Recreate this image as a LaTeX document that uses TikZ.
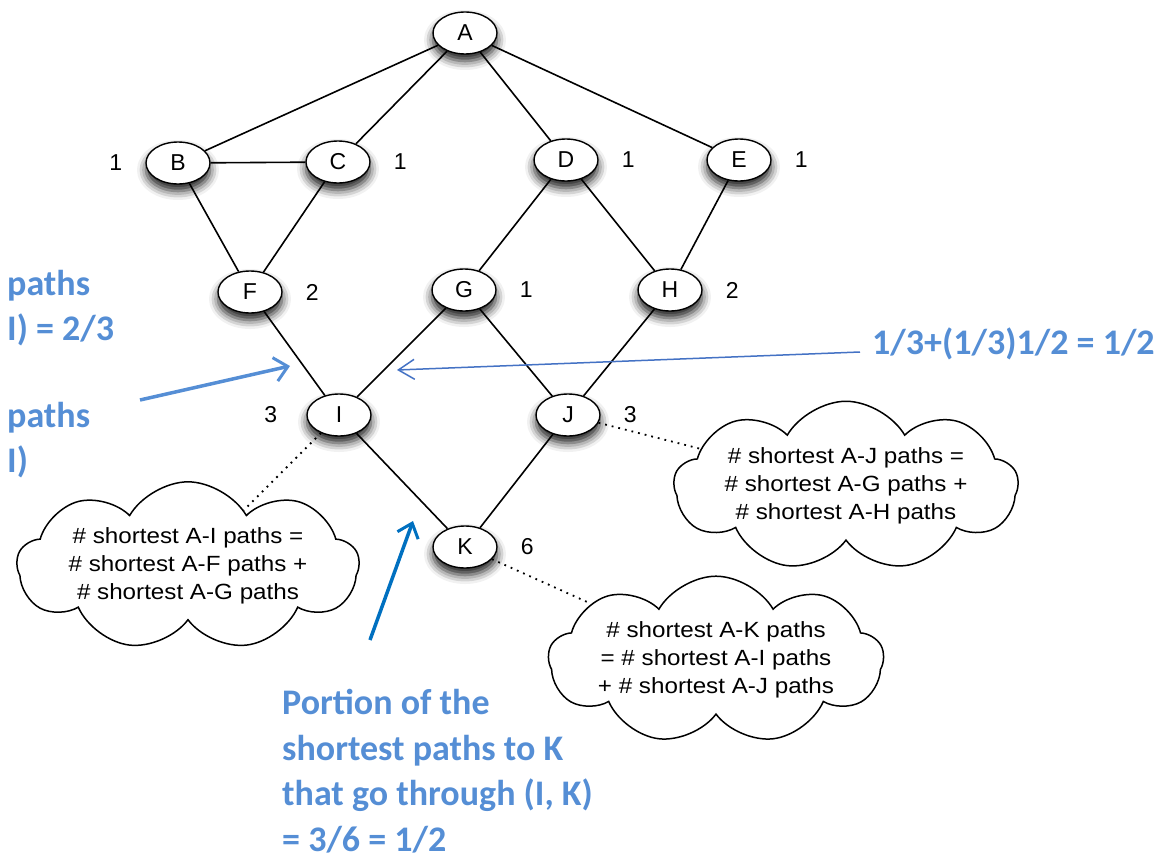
\documentclass[tikz,border=0pt]{standalone}
\usepackage{fontspec}
\setmainfont{Liberation Sans}
\newfontfamily\bubblefont[FakeStretch=1.1]{Liberation Sans}
\newfontfamily\remarkfont{Carlito}
\usetikzlibrary{arrows.meta,positioning,shapes.geometric,shapes.symbols,shadows.blur}
\definecolor{remarkblue}{RGB}{85,142,213}
\definecolor{thinblue}{RGB}{68,114,196}
\definecolor{deepblue}{RGB}{0,112,192}

\begin{document}
\begin{tikzpicture}[x=1pt,y=-1pt,node distance=23pt,
    vertex/.style={draw,ellipse,line width=1.4pt,fill=white,inner sep=0pt,
      minimum width=64pt,minimum height=42pt,font=\fontsize{23}{26}\selectfont,
      blur shadow={shadow xshift=0pt,shadow yshift=-7pt,shadow blur radius=9pt,shadow opacity=90}},
    count/.style={inner sep=0pt,font=\fontsize{23}{26}\selectfont},
    edge/.style={line width=1.6pt},
    bubble/.style={draw,cloud,cloud puffs=9,cloud puff arc=120,cloud ignores aspect,
      inner sep=0pt,line width=1.5pt,align=center,font=\bubblefont\fontsize{22}{28}\selectfont},
    pointer/.style={line width=1.8pt,dash pattern=on 1.8pt off 5pt},
    remark/.style={inner sep=0pt,text=remarkblue,align=left,
      font=\remarkfont\bfseries\fontsize{36}{45.5}\selectfont}]
  \useasboundingbox (0,0) rectangle (1171,859);
  % the graph
  \node[vertex] (A) at (465,33)  {A};
  \node[vertex] (B) at (178,163) {B};
  \node[vertex] (C) at (338,162) {C};
  \node[vertex] (D) at (566,160) {D};
  \node[vertex] (E) at (739,160) {E};
  \node[vertex] (F) at (250,292) {F};
  \node[vertex] (G) at (464,290) {G};
  \node[vertex] (H) at (670,290) {H};
  \node[vertex] (I) at (339,415) {I};
  \node[vertex] (J) at (568,415) {J};
  \node[vertex] (K) at (465,547) {K};
  \foreach \u/\v in {A/B,A/C,A/D,A/E,B/C,B/F,C/F,D/G,D/H,E/H,F/I,G/I,G/J,H/J,I/K,J/K}
    \draw[edge] (\u) -- (\v);
  % path counts
  \node[count,left=of B]     (nB) {1};
  \node[count,right=of C]    (nC) {1};
  \node[count,right=of D]    (nD) {1};
  \node[count,right=of E]    (nE) {1};
  \node[count,right=of F]    (nF) {2};
  \node[count,right=of G]    (nG) {1};
  \node[count,right=of H]    (nH) {2};
  \node[count,left=29pt of I] (nI) {3};
  \node[count,right=of J]    (nJ) {3};
  \node[count,right=of K]    (nK) {6};
  % clouds
  \node[bubble,minimum width=342pt,minimum height=145pt] (noteI) at (188,566)
    {\# shortest A-I paths =\\\# shortest A-F paths +\\\# shortest A-G paths};
  \node[bubble,minimum width=335pt,minimum height=150pt] (noteJ) at (846,486)
    {\# shortest A-J paths =\\\# shortest A-G paths +\\\# shortest A-H paths};
  \node[bubble,minimum width=320pt,minimum height=155pt] (noteK) at (716,660)
    {\# shortest A-K paths\\= \# shortest A-I paths\\+ \# shortest A-J paths};
  \draw[pointer] (I) -- (noteI);
  \draw[pointer] (J) -- (noteJ);
  \draw[pointer] (K) -- (noteK);
  % remarks
  \node[remark,anchor=west] (r1) at (7,308) {paths\\I) = 2/3};
  \node[remark,anchor=west] (r2) at (7,440) {paths\\I)};
  \node[remark,anchor=west] (r3) at (872,344) {1/3+(1/3)1/2 = 1/2};
  \node[remark,anchor=west] (r4) at (282,771)
    {Portion of the\\shortest paths to K\\that go through (I, K)\\= 3/6 = 1/2};
  \coordinate (t1) at (140,400);
  \coordinate (h1) at (290,366);
  \coordinate (t2) at (860,352);
  \coordinate (h2) at (397,370);
  \coordinate (t3) at (370,640);
  \coordinate (h3) at (413,521);
  \draw[remarkblue,line width=3.5pt,-{Straight Barb[length=13pt,width=24pt,line width=3pt]}] (t1) -- (h1);
  \draw[thinblue,line width=1.5pt,-{Straight Barb[length=16pt,width=20pt,line width=1.5pt]}] (t2) -- (h2);
  \draw[deepblue,line width=3.5pt,-{Straight Barb[length=13pt,width=22pt,line width=3pt]}] (t3) -- (h3);
\end{tikzpicture}
\end{document}
